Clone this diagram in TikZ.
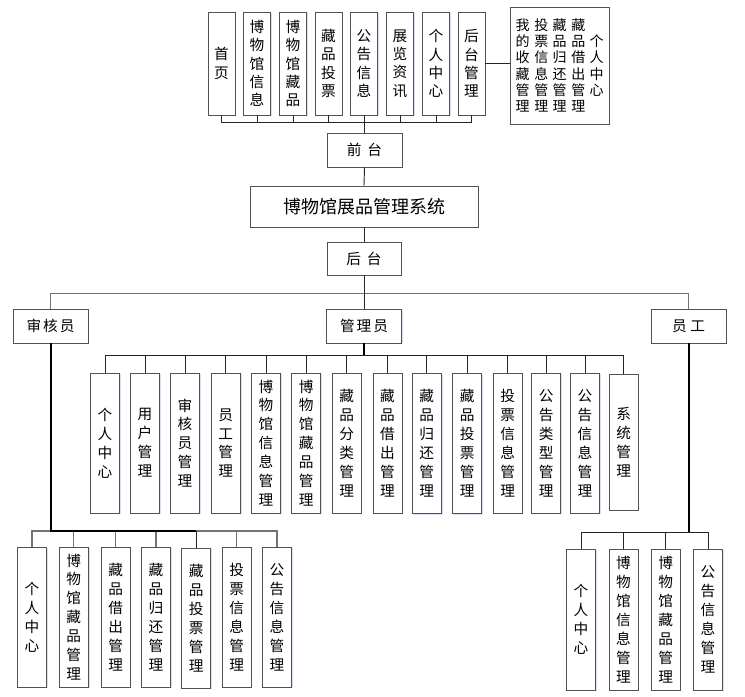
\documentclass[tikz,border=0pt]{standalone}
\usepackage{fontspec}
\newfontfamily\cjk{Noto Sans CJK SC}
\usetikzlibrary{shadows}
\begin{document}
\begin{tikzpicture}[x=0.75pt,y=-0.75pt,
  nbox/.style={draw=black!68, line width=0.7pt, fill=white, inner sep=0pt, align=center,
    drop shadow={shadow xshift=0.9pt, shadow yshift=-0.9pt, fill=blue!30!gray, opacity=0.2}},
  topbox/.style={nbox, minimum width=20.25pt, minimum height=77.25pt, font=\cjk\fontsize{11}{13.7}\selectfont},
  mgrbox/.style={nbox, minimum width=21.75pt, minimum height=105pt, font=\cjk\fontsize{11}{14.2}\selectfont},
  hnode/.style={nbox, minimum width=56.25pt, minimum height=25.5pt, font=\cjk\fontsize{11}{13}\selectfont},
  coltext/.style={inner sep=0pt, align=center, font=\cjk\fontsize{10.5}{12.2}\selectfont},
  conn/.style={draw=black!85, line width=0.7pt},
  busline/.style={draw=black!55, line width=0.9pt},
  heavy/.style={draw=black, line width=1.5pt},
]
\useasboundingbox[fill=white] (0,0) rectangle (745,696);

% ---------- front-end boxes ----------
\node[topbox] (t1) at (221.5,63.5) {首\\页};
\node[topbox] (t2) at (257,63.5) {博\\物\\馆\\信\\息};
\node[topbox] (t3) at (293,63.5) {博\\物\\馆\\藏\\品};
\node[topbox] (t4) at (328.5,63.5) {藏\\品\\投\\票};
\node[topbox] (t5) at (364,63.5) {公\\告\\信\\息};
\node[topbox] (t6) at (400,63.5) {展\\览\\资\\讯};
\node[topbox] (t7) at (436,63.5) {个\\人\\中\\心};
\node[topbox] (t8) at (471.5,63.5) {后\\台\\管\\理};

\node[nbox, minimum width=74.25pt, minimum height=87.75pt] (big) at (559.5,65.5) {};
\node[coltext] (c1) at (522.7,65.5) {我\\的\\收\\藏\\管\\理};
\node[coltext] (c2) at (541.3,65.5) {投\\票\\信\\息\\管\\理};
\node[coltext] (c3) at (559.6,65.5) {藏\\品\\归\\还\\管\\理};
\node[coltext] (c4) at (578.3,65.5) {藏\\品\\借\\出\\管\\理};
\node[coltext] (c5) at (596.7,65.5) {个\\人\\中\\心};

\node[hnode] (qt) at (364.5,150) {前\hspace{0.4em}台};
\node[nbox, minimum width=171pt, minimum height=30.75pt, font=\cjk\fontsize{13.5}{15}\selectfont] (title) at (364,206.5) {博物馆展品管理系统};
\node[hnode, minimum width=55.5pt, minimum height=24.75pt] (ht) at (364,258.5) {后\hspace{0.4em}台};

% ---------- roles ----------
\node[hnode] (r1) at (50.5,326) {审\hspace{1.5pt}核\hspace{1.5pt}员};
\node[hnode] (r2) at (364,326) {管\hspace{1.5pt}理\hspace{1.5pt}员};
\node[hnode] (r3) at (688.5,326) {员\hspace{0.25em}工};

% ---------- administrator ----------
\node[mgrbox] (m1) at (105,443) {个\\人\\中\\心};
\node[mgrbox] (m2) at (145,443) {用\\户\\管\\理};
\node[mgrbox] (m3) at (185,443) {审\\核\\员\\管\\理};
\node[mgrbox] (m4) at (225.8,443) {员\\工\\管\\理};
\node[mgrbox] (m5) at (266,443) {博\\物\\馆\\信\\息\\管\\理};
\node[mgrbox] (m6) at (306.3,443) {博\\物\\馆\\藏\\品\\管\\理};
\node[mgrbox] (m7) at (346.7,443) {藏\\品\\分\\类\\管\\理};
\node[mgrbox] (m8) at (387.5,443) {藏\\品\\借\\出\\管\\理};
\node[mgrbox] (m9) at (426.8,443.5) {藏\\品\\归\\还\\管\\理};
\node[mgrbox] (m10) at (467.2,443.5) {藏\\品\\投\\票\\管\\理};
\node[mgrbox] (m11) at (507.7,443) {投\\票\\信\\息\\管\\理};
\node[mgrbox] (m12) at (546.3,443) {公\\告\\类\\型\\管\\理};
\node[mgrbox] (m13) at (585,443) {公\\告\\信\\息\\管\\理};
\node[mgrbox, minimum height=102pt] (m14) at (623.7,442) {系\\统\\管\\理};

% ---------- auditor ----------
\node[mgrbox] (l1) at (32,617) {个\\人\\中\\心};
\node[mgrbox] (l2) at (73.8,617) {博\\物\\馆\\藏\\品\\管\\理};
\node[mgrbox] (l3) at (115.7,617) {藏\\品\\借\\出\\管\\理};
\node[mgrbox] (l4) at (156,617) {藏\\品\\归\\还\\管\\理};
\node[mgrbox] (l5) at (196.3,618) {藏\\品\\投\\票\\管\\理};
\node[mgrbox] (l6) at (236.7,617) {投\\票\\信\\息\\管\\理};
\node[mgrbox] (l7) at (277,617) {公\\告\\信\\息\\管\\理};

% ---------- staff ----------
\node[mgrbox, minimum height=105.75pt] (b1) at (581,619.5) {个\\人\\中\\心};
\node[mgrbox, minimum height=105.75pt] (b2) at (623.5,619.5) {博\\物\\馆\\信\\息\\管\\理};
\node[mgrbox, minimum height=105.75pt] (b3) at (665.7,619.5) {博\\物\\馆\\藏\\品\\管\\理};
\node[mgrbox, minimum height=105.75pt] (b4) at (708,619.5) {公\\告\\信\\息\\管\\理};

% ---------- connectors ----------
\foreach \n in {t1,t2,t3,t4,t5,t6,t7,t8}
  \draw[conn] (qt.north) -- ++(0,-10) -| (\n.south);
\draw[conn] (t8.east) -- (t8.east -| big.west);
\draw[conn] (qt.south) -- (title.north);
\draw[conn] (title.south) -- (ht.north);

\foreach \n in {r1,r3}
  \draw[busline] (ht.south) ++(0,18) -| (\n.north);
\draw[conn] (ht.south) -- (r2.north);

\foreach \n in {m1,m2,m3,m4,m5,m6,m7,m8,m9,m10,m11,m12,m13,m14}
  \draw[conn] (r2.south) -- ++(0,12) -| (\n.north);
\draw[heavy] (r2.south) -- ++(0,12);

\coordinate (lb) at (50.5,531);
\foreach \n in {l1,l2,l3,l4,l5,l6,l7}
  \draw[busline] (lb) -| (\n.north);
\draw[heavy] (r1.south) -- (lb) -- (lb -| l5.north);
\draw[conn] (lb -| l5.north) -- (l5.north);

\coordinate (rb) at (688.5,532);
\foreach \n in {b1,b2,b3,b4}
  \draw[conn] (rb) -| (\n.north);
\draw[heavy] (r3.south) -- (rb);
\end{tikzpicture}
\end{document}
